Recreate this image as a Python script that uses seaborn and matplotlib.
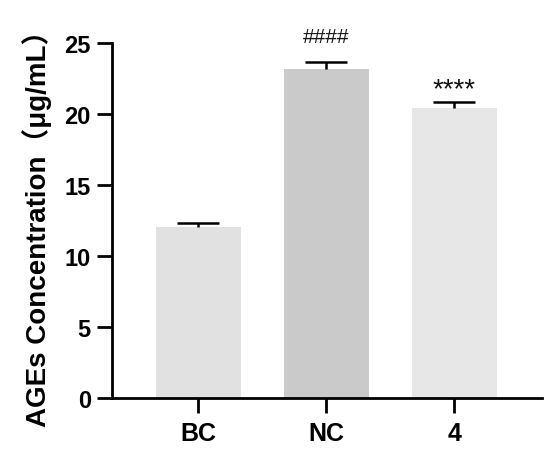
import pandas as pd
import seaborn as sns
import matplotlib.pyplot as plt
import numpy as np

# values
groups = ["BC", "NC", "4"]
conc = [12.03, 23.17, 20.43]
err = [0.33, 0.47, 0.40]
marks = ["", "####", "****"]
colors = ["#e1e1e1", "#cacacb", "#e7e7e7"]

sns.set_style("ticks")
plt.rcParams['font.family'] = ['Liberation Sans', 'Noto Sans CJK SC', 'DejaVu Sans']
plt.rcParams['text.color'] = 'black'
plt.rcParams['xtick.color'] = 'black'
plt.rcParams['ytick.color'] = 'black'
plt.rcParams['axes.labelcolor'] = 'black'

df = pd.DataFrame({"group": groups, "conc": conc})

fig = plt.figure(figsize=(5.5, 4.56), dpi=100)
ax = fig.add_axes([0.203, 0.1243, 0.782, 0.7792])

sns.barplot(data=df, x="group", y="conc", hue="group", palette=colors,
            errorbar=None, width=0.664, legend=False, ax=ax, linewidth=0)

# upper-only error bars
xs = np.arange(len(groups))
tops = np.array(conc) + np.array(err)
ax.vlines(xs, conc, tops, color="black", linewidth=1.8, zorder=3)
ax.hlines(tops, xs - 0.165, xs + 0.165, color="black", linewidth=1.8, zorder=3)

# significance marks
ax.text(1, tops[1] + 1.85, marks[1], ha="center", va="center",
        fontsize=15, color="#111111", clip_on=False)
ax.text(2, tops[2] + 0.95, marks[2], ha="center", va="center",
        fontsize=20, color="#111111", clip_on=False)

ax.set_ylim(0, 25)
ax.set_xlim(-0.675, 2.685)
ax.set_yticks([0, 5, 10, 15, 20, 25])
ax.set_xlabel("")
ax.set_ylabel("AGEs Concentration（μg/mL）", fontsize=20, fontweight="bold", labelpad=9)

sns.despine(ax=ax)
for s in ["left", "bottom"]:
    ax.spines[s].set_linewidth(2.0)
    ax.spines[s].set_color("black")
ax.tick_params(axis="both", direction="out", length=11, width=2.0)
ax.tick_params(axis="y", labelsize=17, pad=4)
ax.tick_params(axis="x", labelsize=18, pad=5)
for lab in ax.get_xticklabels() + ax.get_yticklabels():
    lab.set_fontweight("bold")

fig.savefig("out.png", dpi=100)
